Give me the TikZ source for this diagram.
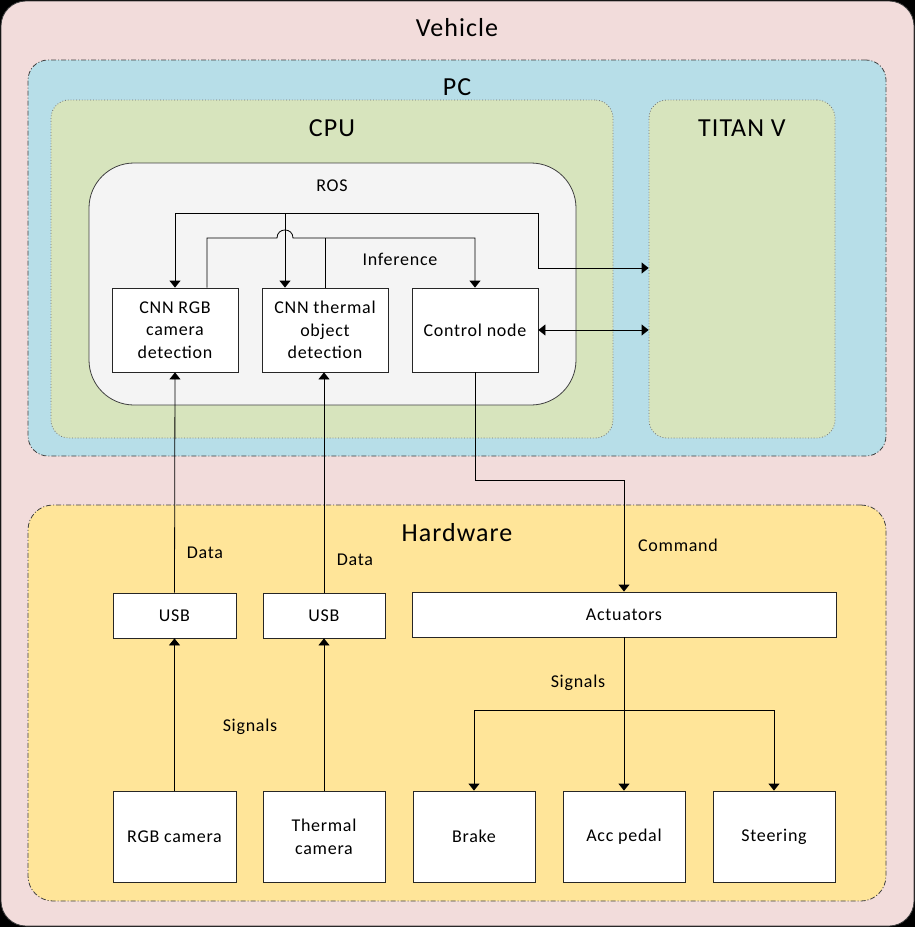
\documentclass[tikz,border=0pt]{standalone}
\usepackage{fontspec}
\setmainfont{Carlito}[LetterSpace=4]
\usetikzlibrary{arrows.meta}
\definecolor{vehfill}{HTML}{F2DCDB}
\definecolor{pcfill}{HTML}{B7DEE8}
\definecolor{cpufill}{HTML}{D7E4BD}
\definecolor{rosfill}{HTML}{F4F4F4}
\definecolor{hwfill}{HTML}{FFE599}
\begin{document}
\begin{tikzpicture}[x=1pt,y=-1pt,
  normal/.style={font=\fontsize{18}{22.7}\selectfont},
  big/.style={font=\fontsize{26}{30}\selectfont},
  dashdot/.style={dash pattern=on 5pt off 2pt on 1pt off 2pt},
  container/.style={draw=black!75, line width=0.8pt, inner sep=0pt},
  box/.style={draw=black!85, fill=white, line width=0.8pt, align=center, inner sep=0pt, normal},
  lab/.style={inner sep=1pt, normal},
  arr/.style={-{Triangle[length=7pt,width=11pt]}, line width=0.8pt},
  darr/.style={{Triangle[length=7pt,width=11pt]}-{Triangle[length=7pt,width=11pt]}, line width=0.8pt},
  wire/.style={line width=0.8pt}]
\fill[black] (0,0) rectangle (915,927);
\useasboundingbox (0,0) rectangle (915,927);
% containers
\node[container, fill=vehfill, rounded corners=25pt, minimum width=913pt, minimum height=925pt] (veh) at (457.5,463.5) {};
\node[container, fill=pcfill, dashdot, rounded corners=20pt, minimum width=858pt, minimum height=396pt] (pc) at (457,258) {};
\node[container, fill=cpufill, draw=black!55, dotted, rounded corners=18pt, minimum width=562pt, minimum height=338pt] (cpu) at (332,269) {};
\node[container, fill=cpufill, draw=black!55, dotted, rounded corners=18pt, minimum width=186pt, minimum height=338pt] (titan) at (742,269) {};
\node[container, fill=rosfill, rounded corners=45pt, minimum width=487pt, minimum height=242pt] (ros) at (332.5,284) {};
\node[container, fill=hwfill, dashdot, rounded corners=25pt, minimum width=858pt, minimum height=396pt] (hw) at (457,703) {};
% titles
\node[big] (tveh) at (457,28) {Vehicle};
\node[big] (tpc) at (457,87) {PC};
\node[big] (tcpu) at (332,128) {CPU};
\node[big] (ttitan) at (742,128) {TITAN V};
\node[big] (thw) at (457,533) {Hardware};
\node[lab] (tros) at (332,186) {ROS};
% boxes
\node[box, minimum width=126pt, minimum height=84pt] (rgbcnn) at (175,330) {CNN RGB\\camera\\detection};
\node[box, minimum width=126pt, minimum height=84pt] (thcnn) at (325,330) {CNN thermal\\object\\detection};
\node[box, minimum width=126pt, minimum height=84pt] (ctrl) at (475,330) {Control node};
\node[box, minimum width=123pt, minimum height=45pt] (usb1) at (174.5,615.5) {USB};
\node[box, minimum width=122pt, minimum height=45pt] (usb2) at (324,615.5) {USB};
\node[box, minimum width=424pt, minimum height=45pt] (act) at (624,614.5) {Actuators};
\node[box, minimum width=123pt, minimum height=91pt] (rgbcam) at (174.5,836.5) {RGB camera};
\node[box, minimum width=122pt, minimum height=91pt] (thcam) at (324,836.5) {Thermal\\camera};
\node[box, minimum width=122pt, minimum height=91pt] (brake) at (474,836.5) {Brake};
\node[box, minimum width=122pt, minimum height=91pt] (acc) at (624,836.5) {Acc pedal};
\node[box, minimum width=122pt, minimum height=91pt] (steer) at (774,836.5) {Steering};
% coordinates
\coordinate (top) at (538,213);
\coordinate (h268) at (0,268);
\coordinate (inf) at (207,238);
\coordinate (cmd) at (624,480);
\coordinate (sb) at (624,710);
% ROS connectors
\draw[darr] (rgbcnn.north) |- (top) |- (titan.west |- h268);
\draw[arr] (285,213) -- ([xshift=-40pt]thcnn.north);
\draw[arr] ([xshift=32pt]rgbcnn.north) |- (277,238)
  .. controls (277,227.3) and (293,227.3) .. (293,238) -| (ctrl.north);
\draw[wire] (thcnn.north) -- (thcnn.north |- inf);
\node[lab] (tinf) at (400,259) {Inference};
\draw[darr] (ctrl.east) -- (titan.west |- ctrl.east);
% command
\draw[arr] (ctrl.south) |- (cmd) -- (act.north);
\node[lab] (tcmd) at (678,545) {Command};
% data
\draw[arr] (usb1.north) -- (rgbcnn.south);
\draw[arr] (usb2.north) -- ([xshift=-1pt]thcnn.south);
\node[lab] (tdata1) at (205,553) {Data};
\node[lab] (tdata2) at (355,560) {Data};
% signals
\draw[arr] (rgbcam.north) -- (usb1.south);
\draw[arr] (thcam.north) -- (usb2.south);
\node[lab] (tsig1) at (250,727) {Signals};
\draw[arr] (act.south) -- (acc.north);
\draw[arr] (sb) -| (brake.north);
\draw[arr] (sb) -| (steer.north);
\node[lab] (tsig2) at (578,683) {Signals};
\end{tikzpicture}
\end{document}
